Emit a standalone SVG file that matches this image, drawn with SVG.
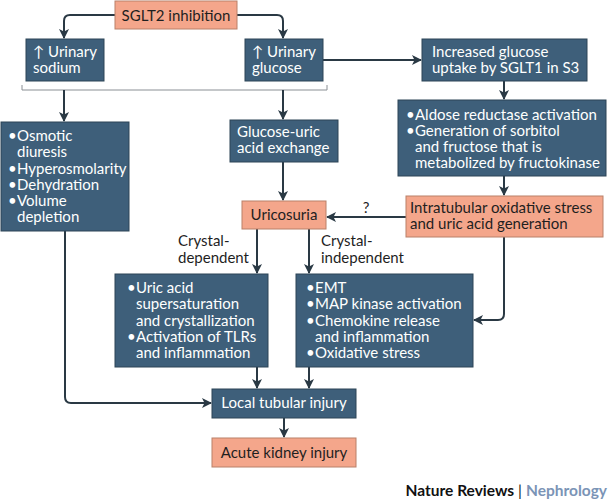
<svg xmlns="http://www.w3.org/2000/svg" width="610" height="500" viewBox="0 0 610 500">
<style>
.b{fill:#3e5f7a;stroke:#2c4456;stroke-width:1}
.s{fill:#f4a68b;stroke:#b98069;stroke-width:1}
text{font-family:Lato,"Noto Sans","DejaVu Sans",sans-serif;font-size:15px}
.w{fill:#ffffff}
.k{fill:#1f1f1f}
.c{fill:none;stroke:#2a3944;stroke-width:2;stroke-linejoin:round}
</style>
<defs>
<marker id="a" viewBox="0 0 10 10" refX="9" refY="5" markerWidth="5" markerHeight="5" orient="auto" markerUnits="strokeWidth">
<path d="M0,0 L10,5 L0,10 L2.5,5 z" fill="#2a3944"/>
</marker>
</defs>
<rect width="610" height="500" fill="#ffffff"/>
<g id="connectors">
<path class="c" d="M115,15 H70 Q64,15 64,21 V38" marker-end="url(#a)"/>
<path class="c" d="M237,15 H277 Q283,15 283,21 V38" marker-end="url(#a)"/>
<path d="M22,85 V90 H327 V85" fill="none" stroke="#8a8f94" stroke-width="1"/>
<path class="c" d="M64,90 V121" marker-end="url(#a)"/>
<path class="c" d="M283,90 V119" marker-end="url(#a)"/>
<path class="c" d="M323,60 H421" marker-end="url(#a)"/>
<path class="c" d="M504,81 V99" marker-end="url(#a)"/>
<path class="c" d="M504,176 V195" marker-end="url(#a)"/>
<path class="c" d="M406,217 H327" marker-end="url(#a)"/>
<path class="c" d="M283,162 V200" marker-end="url(#a)"/>
<path class="c" d="M257,229 V273" marker-end="url(#a)"/>
<path class="c" d="M309,229 V273" marker-end="url(#a)"/>
<path class="c" d="M504,237 V314 Q504,320 498,320 H474" marker-end="url(#a)"/>
<path class="c" d="M65,231 V397 Q65,403 71,403 H211" marker-end="url(#a)"/>
<path class="c" d="M257,367 V388" marker-end="url(#a)"/>
<path class="c" d="M309,367 V388" marker-end="url(#a)"/>
<path class="c" d="M284,418 V437" marker-end="url(#a)"/>
<text class="k" x="366" y="213" text-anchor="middle">?</text>
<text class="k"><tspan x="178" y="246">Crystal-</tspan><tspan x="178" y="263">dependent</tspan></text>
<text class="k"><tspan x="321" y="246">Crystal-</tspan><tspan x="321" y="263">independent</tspan></text>
</g>
<g id="sglt2">
<rect class="s" x="115" y="1" width="122" height="28"/>
<text class="k" x="176" y="21" text-anchor="middle">SGLT2 inhibition</text>
</g>
<g id="urinary-sodium">
<rect class="b" x="26" y="39" width="78" height="42"/>
<text class="w"><tspan x="33" y="57">↑ Urinary</tspan><tspan x="33" y="73">sodium</tspan></text>
</g>
<g id="urinary-glucose">
<rect class="b" x="245" y="39" width="78" height="42"/>
<text class="w"><tspan x="252" y="57">↑ Urinary</tspan><tspan x="252" y="73">glucose</tspan></text>
</g>
<g id="increased-glucose">
<rect class="b" x="422" y="39" width="165" height="42"/>
<text class="w"><tspan x="432" y="57">Increased glucose</tspan><tspan x="432" y="73">uptake by SGLT1 in S3</tspan></text>
</g>
<g id="aldose">
<rect class="b" x="398" y="100" width="208" height="76"/>
<text class="w"><tspan x="406" y="120">•</tspan><tspan x="415" y="120">Aldose reductase activation</tspan><tspan x="406" y="136">•</tspan><tspan x="415" y="136">Generation of sorbitol</tspan><tspan x="415" y="152">and fructose that is</tspan><tspan x="415" y="168">metabolized by fructokinase</tspan></text>
</g>
<g id="osmotic">
<rect class="b" x="1" y="122" width="128" height="109"/>
<text class="w"><tspan x="8" y="141">•</tspan><tspan x="17" y="141">Osmotic</tspan><tspan x="17" y="157">diuresis</tspan><tspan x="8" y="174">•</tspan><tspan x="17" y="174">Hyperosmolarity</tspan><tspan x="8" y="190">•</tspan><tspan x="17" y="190">Dehydration</tspan><tspan x="8" y="206">•</tspan><tspan x="17" y="206">Volume</tspan><tspan x="17" y="222">depletion</tspan></text>
</g>
<g id="glucose-uric">
<rect class="b" x="230" y="120" width="108" height="42"/>
<text class="w"><tspan x="237" y="137">Glucose-uric</tspan><tspan x="237" y="153">acid exchange</tspan></text>
</g>
<g id="uricosuria">
<rect class="s" x="242" y="201" width="84" height="28"/>
<text class="k" x="284" y="220" text-anchor="middle">Uricosuria</text>
</g>
<g id="intratubular">
<rect class="s" x="406" y="196" width="197" height="41"/>
<text class="k"><tspan x="410" y="213">Intratubular oxidative stress</tspan><tspan x="410" y="229">and uric acid generation</tspan></text>
</g>
<g id="uric-acid">
<rect class="b" x="115" y="274" width="153" height="93"/>
<text class="w"><tspan x="127" y="293">•</tspan><tspan x="136" y="293">Uric acid</tspan><tspan x="136" y="309">supersaturation</tspan><tspan x="136" y="326">and crystallization</tspan><tspan x="127" y="342">•</tspan><tspan x="136" y="342">Activation of TLRs</tspan><tspan x="136" y="358">and inflammation</tspan></text>
</g>
<g id="emt">
<rect class="b" x="296" y="274" width="177" height="93"/>
<text class="w"><tspan x="306" y="293">•</tspan><tspan x="315" y="293">EMT</tspan><tspan x="306" y="309">•</tspan><tspan x="315" y="309">MAP kinase activation</tspan><tspan x="306" y="326">•</tspan><tspan x="315" y="326">Chemokine release</tspan><tspan x="315" y="342">and inflammation</tspan><tspan x="306" y="358">•</tspan><tspan x="315" y="358">Oxidative stress</tspan></text>
</g>
<g id="local">
<rect class="b" x="212" y="389" width="144" height="29"/>
<text class="w" x="284" y="408" text-anchor="middle">Local tubular injury</text>
</g>
<g id="aki">
<rect class="s" x="212" y="438" width="144" height="29"/>
<text class="k" x="284" y="458" text-anchor="middle">Acute kidney injury</text>
</g>
<text x="607" y="496" text-anchor="end" style="font-size:15.5px;font-weight:bold"><tspan fill="#111111">Nature Reviews</tspan><tspan fill="#111111" font-weight="normal"> | </tspan><tspan fill="#7b94b6">Nephrology</tspan></text>
</svg>
